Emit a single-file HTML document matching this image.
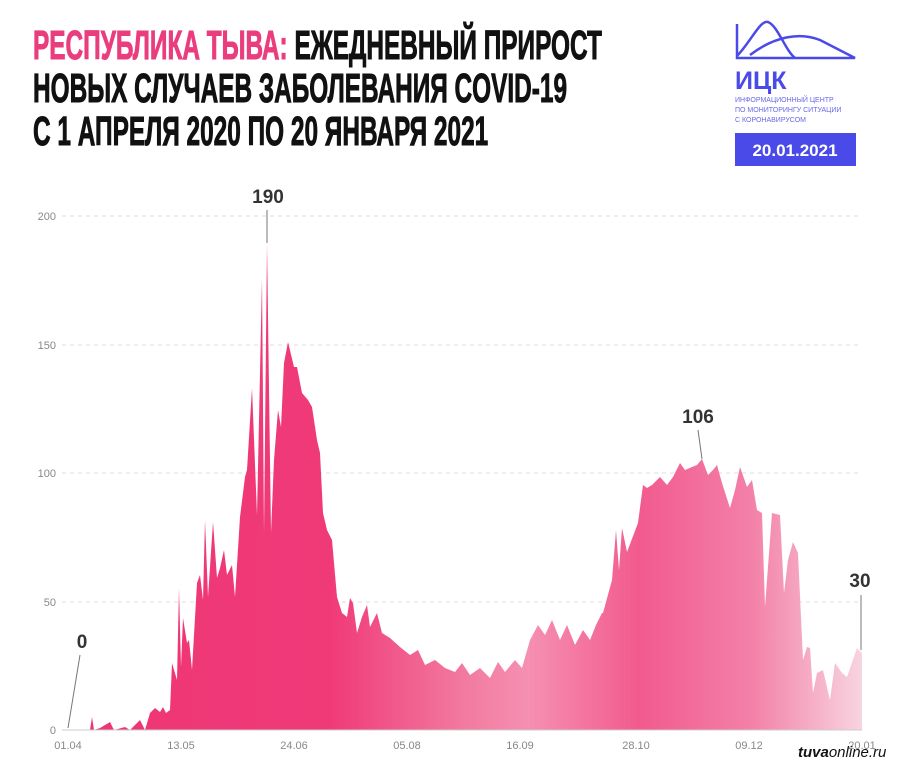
<!DOCTYPE html><html><head><meta charset="utf-8"><style>
body{margin:0;background:#fff;}
.t{position:absolute;left:33px;font-family:"Liberation Sans",sans-serif;font-weight:bold;font-size:41px;transform:scaleX(0.595);transform-origin:0 0;white-space:nowrap;color:#111;-webkit-text-stroke:1px currentColor}
</style></head><body>
<div style="position:relative;width:900px;height:769px;overflow:hidden">
<div class="t" style="top:22px"><span style="color:#ea3d7e">РЕСПУБЛИКА ТЫВА:</span> ЕЖЕДНЕВНЫЙ ПРИРОСТ</div>
<div class="t" style="top:65px">НОВЫХ СЛУЧАЕВ ЗАБОЛЕВАНИЯ COVID-19</div>
<div class="t" style="top:108px">С 1 АПРЕЛЯ 2020 ПО 20 ЯНВАРЯ 2021</div>
<svg width="900" height="769" style="position:absolute;left:0;top:0" font-family="Liberation Sans, sans-serif">
<defs><linearGradient id="g" x1="68" x2="862" y1="0" y2="0" gradientUnits="userSpaceOnUse">
<stop offset="0" stop-color="#ee3575"/><stop offset="0.33" stop-color="#f03a78"/><stop offset="0.5" stop-color="#f27aa0"/><stop offset="0.58" stop-color="#f590b2"/><stop offset="0.72" stop-color="#f25a8e"/><stop offset="0.86" stop-color="#f380a8"/><stop offset="1" stop-color="#f8d4e0"/></linearGradient></defs>
<g stroke="#ddd" stroke-dasharray="4,4" stroke-width="1"><line x1="62" x2="862" y1="216" y2="216"/><line x1="62" x2="862" y1="345" y2="345"/><line x1="62" x2="862" y1="473" y2="473"/><line x1="62" x2="862" y1="602" y2="602"/></g>
<g font-size="11" fill="#888" text-anchor="end"><text x="56" y="220">200</text><text x="56" y="349">150</text><text x="56" y="477">100</text><text x="56" y="606">50</text><text x="56" y="734">0</text></g>
<path fill="url(#g)" d="M68,730 L90,730 92,717 94,730 100,728 110,722 114,730 125,727 130,730 140,720 145,730 150,713 155,708 160,712 163,707 166,713 170,710 172,663 177,680 179,588 181,667 183,618 187,643 189,640 192,670 197,583 200,575 203,600 205,520 208,597 213,522 217,578 220,568 224,550 227,575 232,565 235,597 240,517 245,477 247,470 252,388 257,515 262,278 264,533 267,243 271,533 274,460 278,410 281,427 284,363 288,342 294,367 297,367 302,393 308,400 312,407 317,440 320,453 323,513 327,530 332,540 337,597 342,613 347,617 350,598 353,603 357,633 362,617 367,605 370,627 377,613 382,633 390,638 400,647 410,655 418,650 425,665 435,660 445,668 455,672 462,663 470,675 480,668 490,678 498,662 505,672 515,660 522,668 530,640 538,625 545,635 552,620 560,640 567,625 575,645 583,630 590,640 596,625 602,613 L603,613 612,580 616,530 619,570 622,528 627,552 638,523 643,485 647,488 652,485 660,477 667,485 673,477 680,463 685,470 692,467 697,465 702,459 708,475 713,470 717,465 722,483 730,508 735,490 740,467 747,487 752,480 757,510 762,513 765,607 772,513 780,515 784,593 788,560 793,542 798,553 803,660 807,647 810,648 813,693 817,673 823,670 830,700 835,663 842,673 847,677 857,648 862,653 862,730Z"/>
<line x1="62" x2="862" y1="730" y2="730" stroke="#ccc"/>
<g font-size="11" fill="#888" text-anchor="middle"><text x="68" y="749">01.04</text><text x="181" y="749">13.05</text><text x="294" y="749">24.06</text><text x="407" y="749">05.08</text><text x="520" y="749">16.09</text><text x="636" y="749">28.10</text><text x="749" y="749">09.12</text><text x="862" y="749">20.01</text></g>
<g stroke="#777" stroke-width="1"><line x1="80" y1="655" x2="68" y2="728"/><line x1="267" y1="210" x2="267" y2="243"/><line x1="698" y1="430" x2="702" y2="459"/><line x1="861" y1="595" x2="861" y2="650"/></g>
<g font-size="19" font-weight="bold" fill="#333" text-anchor="middle"><text x="82" y="648">0</text><text x="268" y="203">190</text><text x="698" y="423">106</text><text x="860" y="587">30</text></g>
<g fill="none" stroke="#4a4ae8" stroke-width="2.5"><path d="M737,24 V58 H855 L820,40 C800,32 775,36 750,55"/><path d="M737,56 C752,40 760,20 768,22 C778,26 785,50 795,58"/></g>
<text x="735" y="89" font-size="25" font-weight="bold" fill="#4a4ae8">ИЦК</text>
<g font-size="7" fill="#6868e8"><text x="735" y="102">ИНФОРМАЦИОННЫЙ ЦЕНТР</text><text x="735" y="112">ПО МОНИТОРИНГУ СИТУАЦИИ</text><text x="735" y="122">С КОРОНАВИРУСОМ</text></g>
<rect x="735" y="133" width="121" height="33" fill="#4a4ae8"/>
<text x="795" y="156" font-size="17" font-weight="bold" fill="#fff" text-anchor="middle">20.01.2021</text>
<text x="798" y="757" font-size="15" fill="#111" font-style="italic"><tspan font-weight="bold">tuva</tspan>online.ru</text>
</svg></div></body></html>
